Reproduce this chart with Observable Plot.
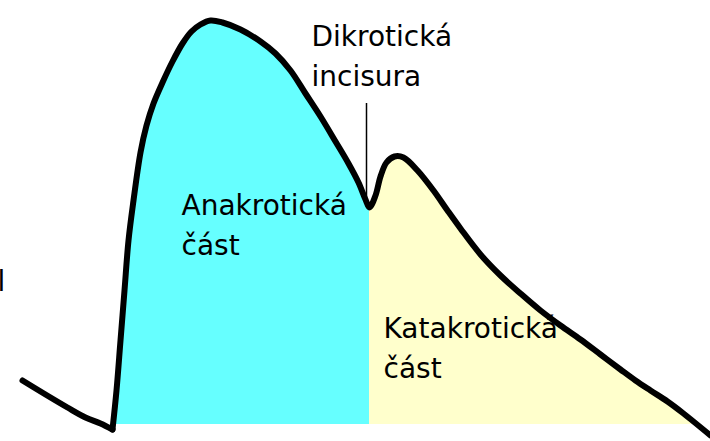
<!DOCTYPE html>
<html>
<head>
<meta charset="utf-8">
<script src="https://cdn.jsdelivr.net/npm/d3@7"></script>
<script src="https://cdn.jsdelivr.net/npm/@observablehq/plot@0.6"></script>
<style>
  html, body { margin: 0; padding: 0; background: #fff; }
  #chart svg { display: block; }
</style>
</head>
<body>
<div id="chart"></div>
<script>
// Pulse curve: time and pressure (0 = bottom edge)
// segment 0: slow fall before the upstroke, segment 1: the pulse wave itself
const time = [22, 45, 67, 85, 100, 112,
  112, 116, 120, 124, 128, 133, 140, 146, 153, 162, 172, 182, 191, 200, 210, 222, 240, 260, 275, 290, 305, 320, 335, 348, 358, 365, 369, 375, 380, 386, 394, 403, 417, 433, 447, 460, 480, 500, 520, 540, 560, 580, 600, 620, 635, 650, 667, 683, 710];
const pressure = [61, 47, 34, 24, 18, 12,
  12, 51, 101, 151, 201, 241, 289, 316, 338, 359, 380, 398, 410, 417, 421, 419, 412, 400, 388, 371, 348, 325, 300, 278, 259, 242, 234, 246, 265, 279, 285, 284, 271, 251, 231, 213, 187, 166, 148, 131, 116, 102, 87, 72, 61, 51, 40, 28, 6];
const segment = [0, 0, 0, 0, 0, 0,
  1, 1, 1, 1, 1, 1, 1, 1, 1, 1, 1, 1, 1, 1, 1, 1, 1, 1, 1, 1, 1, 1, 1, 1, 1, 1, 1, 1, 1, 1, 1, 1, 1, 1, 1, 1, 1, 1, 1, 1, 1, 1, 1, 1, 1, 1, 1, 1, 1];
const baseline = 17;
const notchTime = 369;

const labels = ["Dikrotická\nincisura", "Anakrotická\nčást", "Katakrotická\nčást", "l"];
const labelTime = [311, 181, 383, -3];
const labelPressure = [423, 254, 131, 178];
const pointerTime = [366];
const pointerFrom = [236];
const pointerTo = [338];

const curve = time.map((t, i) => ({t, p: pressure[i], s: segment[i]}));
const wave = curve.filter(d => d.s === 1);

// area under the curve, split at the dicrotic notch
const anacrotic = wave.filter(d => d.t <= notchTime)
  .map(d => ({t: d.t, p: Math.max(d.p, baseline)}));
const catacroticRaw = wave.filter(d => d.t >= notchTime);
const catacrotic = [];
for (let i = 0; i < catacroticRaw.length; i++) {
  const d = catacroticRaw[i];
  if (d.p >= baseline) catacrotic.push(d);
  else {
    const a = catacroticRaw[i - 1];
    const tc = a.t + (d.t - a.t) * (a.p - baseline) / (a.p - d.p);
    catacrotic.push({t: tc, p: baseline});
    break;
  }
}

const font = "DejaVu Sans, Verdana, sans-serif";

const chart = Plot.plot({
  width: 710,
  height: 441,
  margin: 0,
  x: {domain: [0, 710], range: [0, 710], axis: null},
  y: {domain: [0, 441], range: [441, 0], axis: null},
  style: {background: "#fff", fontFamily: font, overflow: "hidden"},
  marks: [
    Plot.areaY(anacrotic, {x: "t", y1: baseline, y2: "p", fill: "#66ffff", curve: "catmull-rom"}),
    Plot.areaY(catacrotic, {x: "t", y1: baseline, y2: "p", fill: "#ffffcc", curve: "catmull-rom"}),
    Plot.ruleX(pointerTime, {x: d => d, y1: pointerFrom[0], y2: pointerTo[0], stroke: "#000", strokeWidth: 1.5}),
    Plot.line(curve, {x: "t", y: "p", z: "s", stroke: "#000", strokeWidth: 6, curve: "catmull-rom", strokeLinejoin: "round", strokeLinecap: "round"}),
    Plot.text(labels, {
      x: (d, i) => labelTime[i],
      y: (d, i) => labelPressure[i],
      text: d => d,
      textAnchor: "start",
      lineAnchor: "top",
      lineHeight: 1.4,
      fontSize: 28,
      fontFamily: font,
      fill: "#000"
    })
  ]
});
document.getElementById("chart").appendChild(chart);
</script>
</body>
</html>
